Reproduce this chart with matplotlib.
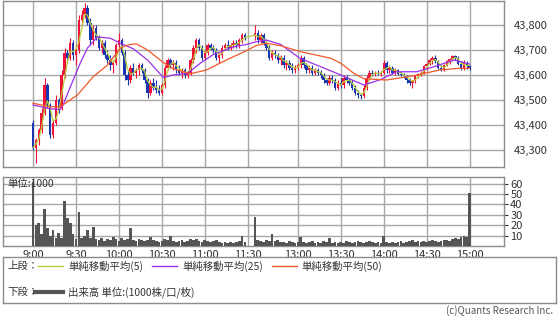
import numpy as np
import pandas as pd
import matplotlib
matplotlib.use("Agg")
import matplotlib.pyplot as plt

plt.rcParams['font.family'] = ['Noto Sans CJK JP', 'DejaVu Sans']

# 2-minute bars: morning 9:00-11:28 (75 bars), afternoon 12:30-15:00 (76 bars)
opens = [
    43410, 43310, 43340, 43380, 43450, 43560, 43480, 43360, 43410, 43500,
    43470, 43600, 43690, 43670, 43730, 43680, 43700, 43820, 43840, 43870,
    43810, 43740, 43790, 43750, 43710, 43730, 43680, 43660, 43640, 43650,
    43720, 43740, 43690, 43600, 43580, 43630, 43610, 43620, 43640, 43620,
    43580, 43530, 43570, 43550, 43540, 43530, 43560, 43630, 43660, 43640,
    43650, 43620, 43610, 43620, 43600, 43610, 43660, 43710, 43740, 43710,
    43670, 43690, 43720, 43710, 43700, 43670, 43680, 43710, 43720, 43710,
    43720, 43730, 43720, 43740, 43760,
    43760, 43770, 43740, 43760, 43730, 43710, 43670, 43690, 43680, 43660,
    43670, 43640, 43650, 43630, 43620, 43630, 43640, 43670, 43640, 43620,
    43630, 43610, 43620, 43610, 43600, 43580, 43570, 43590, 43580, 43550,
    43570, 43560, 43590, 43580, 43570, 43550, 43530, 43520, 43515, 43550,
    43590, 43610, 43605, 43610, 43605, 43610, 43650, 43620, 43630, 43610,
    43620, 43605, 43600, 43595, 43580, 43570, 43575, 43595, 43605, 43610,
    43635, 43645, 43660, 43670, 43655, 43630, 43620, 43640, 43655, 43665,
    43675, 43670, 43645, 43630, 43650, 43635,
]
highs = [
    43420, 43350, 43390, 43470, 43590, 43570, 43490, 43420, 43520, 43510,
    43620, 43710, 43700, 43750, 43740, 43720, 43840, 43860, 43890, 43880,
    43830, 43800, 43800, 43760, 43740, 43740, 43700, 43680, 43660, 43730,
    43770, 43750, 43700, 43620, 43640, 43650, 43630, 43650, 43650, 43630,
    43590, 43580, 43590, 43580, 43560, 43570, 43640, 43670, 43670, 43660,
    43660, 43640, 43630, 43630, 43620, 43670, 43720, 43750, 43750, 43720,
    43700, 43730, 43730, 43720, 43710, 43690, 43720, 43730, 43740, 43730,
    43740, 43740, 43750, 43770, 43770,
    43800, 43780, 43770, 43770, 43740, 43720, 43700, 43700, 43690, 43680,
    43680, 43660, 43660, 43650, 43640, 43650, 43680, 43675, 43650, 43640,
    43640, 43630, 43630, 43620, 43610, 43590, 43600, 43600, 43590, 43580,
    43590, 43600, 43600, 43590, 43580, 43560, 43540, 43530, 43560, 43600,
    43620, 43620, 43615, 43620, 43615, 43660, 43655, 43640, 43635, 43630,
    43625, 43615, 43610, 43600, 43590, 43580, 43600, 43610, 43615, 43640,
    43650, 43670, 43675, 43680, 43660, 43640, 43645, 43660, 43670, 43680,
    43680, 43675, 43655, 43660, 43655, 43640,
]
lows = [
    43300, 43250, 43320, 43370, 43440, 43470, 43350, 43350, 43400, 43450,
    43460, 43590, 43650, 43660, 43660, 43640, 43690, 43800, 43830, 43800,
    43720, 43720, 43740, 43700, 43690, 43670, 43650, 43620, 43610, 43640,
    43700, 43680, 43580, 43560, 43570, 43600, 43590, 43600, 43610, 43570,
    43510, 43520, 43540, 43530, 43520, 43520, 43550, 43620, 43630, 43620,
    43610, 43600, 43590, 43590, 43590, 43600, 43650, 43690, 43700, 43660,
    43660, 43680, 43700, 43690, 43660, 43650, 43670, 43700, 43700, 43700,
    43710, 43710, 43710, 43730, 43740,
    43740, 43730, 43730, 43720, 43700, 43660, 43660, 43670, 43650, 43640,
    43630, 43620, 43620, 43610, 43610, 43620, 43630, 43630, 43610, 43610,
    43600, 43600, 43600, 43590, 43570, 43560, 43560, 43570, 43540, 43540,
    43550, 43550, 43570, 43560, 43540, 43520, 43510, 43505, 43510, 43540,
    43580, 43595, 43595, 43600, 43595, 43605, 43610, 43610, 43605, 43600,
    43600, 43595, 43590, 43570, 43560, 43550, 43570, 43590, 43595, 43605,
    43620, 43640, 43645, 43650, 43625, 43615, 43615, 43635, 43645, 43655,
    43660, 43640, 43620, 43620, 43625, 43620,
]
closes = [
    43310, 43340, 43380, 43450, 43560, 43480, 43360, 43410, 43500, 43470,
    43600, 43690, 43670, 43730, 43680, 43700, 43820, 43840, 43870, 43810,
    43740, 43790, 43750, 43710, 43730, 43680, 43660, 43640, 43650, 43720,
    43740, 43690, 43600, 43580, 43630, 43610, 43620, 43640, 43620, 43580,
    43530, 43570, 43550, 43540, 43530, 43560, 43630, 43660, 43640, 43650,
    43620, 43610, 43620, 43600, 43610, 43660, 43710, 43740, 43710, 43670,
    43690, 43720, 43710, 43700, 43670, 43680, 43710, 43720, 43710, 43720,
    43730, 43720, 43740, 43760, 43750,
    43770, 43740, 43760, 43730, 43710, 43670, 43690, 43680, 43660, 43670,
    43640, 43650, 43630, 43620, 43630, 43640, 43670, 43640, 43620, 43630,
    43610, 43620, 43610, 43600, 43580, 43570, 43590, 43580, 43550, 43570,
    43560, 43590, 43580, 43570, 43550, 43530, 43520, 43515, 43550, 43590,
    43610, 43605, 43610, 43605, 43610, 43650, 43620, 43630, 43610, 43620,
    43605, 43600, 43595, 43580, 43570, 43575, 43595, 43605, 43610, 43635,
    43645, 43660, 43670, 43655, 43630, 43620, 43640, 43655, 43665, 43675,
    43670, 43645, 43630, 43650, 43635, 43630,
]
volumes = [
    62, 20, 22, 12, 36, 17, 10, 15, 8, 13,
    8, 43, 27, 22, 12, 7, 33, 8, 10, 15,
    8, 18, 7, 6, 8, 5, 7, 6, 9, 7,
    5, 8, 6, 7, 17, 6, 5, 7, 6, 5,
    6, 9, 6, 5, 4, 5, 7, 6, 10, 5,
    4, 5, 6, 4, 5, 7, 6, 7, 5, 4,
    6, 5, 4, 5, 6, 4, 3, 4, 3, 4,
    3, 4, 5, 10, 4,
    28, 6, 5, 4, 6, 5, 12, 5, 6, 4,
    4, 3, 5, 4, 3, 4, 9, 4, 3, 4,
    5, 3, 4, 3, 5, 4, 8, 3, 4, 3,
    4, 3, 5, 4, 3, 4, 5, 4, 3, 4,
    5, 4, 3, 4, 3, 10, 4, 3, 4, 3,
    4, 5, 3, 4, 5, 6, 4, 5, 4, 5,
    4, 5, 6, 5, 4, 5, 6, 6, 5, 7,
    8, 7, 9, 10, 9, 51,
]

# moving averages
ma25_times = ["9:00", "9:12", "9:19", "9:21", "9:26", "9:33", "9:38", "9:45", "9:54",
              "10:01", "10:10", "10:20", "10:31", "10:38", "10:48", "10:57", "11:06",
              "11:20", "11:29", "12:31", "12:38", "12:48", "13:02", "13:16", "13:30",
              "13:46", "13:57", "14:09", "14:23", "14:35", "14:49", "15:00"]
ma25_vals = [43480, 43465, 43462, 43480, 43552, 43648, 43708, 43752, 43747,
             43727, 43705, 43660, 43590, 43600, 43607, 43648, 43682,
             43713, 43722, 43733, 43740, 43722, 43665, 43633, 43600,
             43560, 43580, 43613, 43613, 43633, 43660, 43644]
ma50_times = ["9:00", "9:12", "9:19", "9:31", "9:42", "9:52", "10:01", "10:06", "10:12",
              "10:20", "10:31", "10:38", "10:50", "11:01", "11:15", "11:29", "12:31",
              "12:38", "12:48", "13:02", "13:23", "13:30", "13:39", "13:46", "14:02",
              "14:21", "14:39", "14:53", "15:00"]
ma50_vals = [43487, 43473, 43473, 43520, 43593, 43640, 43707, 43720, 43725,
             43700, 43650, 43625, 43605, 43620, 43660, 43697, 43718,
             43727, 43717, 43693, 43667, 43647, 43607, 43585, 43580,
             43597, 43620, 43627, 43627]

tick_times = ["9:00", "9:30", "10:00", "10:30", "11:00", "11:30",
              "13:00", "13:30", "14:00", "14:30", "15:00"]
price_ticks = [43300, 43400, 43500, 43600, 43700, 43800]
vol_ticks = [10, 20, 30, 40, 50, 60]


def to_pos(hhmm):
    h, m = map(int, hhmm.split(":"))
    mins = (h - 9) * 60 + m
    # lunch break compressed: 12:30 sits 5 min after 11:30
    return mins if mins <= 150 else mins - 55


bar_times = list(pd.date_range("09:00", periods=75, freq="2min").strftime("%H:%M")) + \
            list(pd.date_range("12:30", periods=76, freq="2min").strftime("%H:%M"))
x = np.array([to_pos(t) for t in bar_times])
o, h, l, c = map(np.array, (opens, highs, lows, closes))
ma5 = pd.Series(c).rolling(3, min_periods=1).mean()

W, H = 560, 317


def rect(x0, y0, x1, y1):
    return [x0 / W, 1 - y1 / H, (x1 - x0) / W, (y1 - y0) / H]


fig = plt.figure(figsize=(W / 100, H / 100), dpi=100)
ax = fig.add_axes(rect(3, 1, 504, 167))
axv = fig.add_axes(rect(3, 177, 504, 246))
axl = fig.add_axes(rect(3, 257, 556, 303))

grid_c = '#a8a8a8'
spine_c = '#8c8c8c'
up_c, dn_c = '#f01238', '#1a35b0'
tick_pos = [to_pos(t) for t in tick_times]

# candles
up = c >= o
cols = np.where(up, up_c, dn_c)
ax.vlines(x, l, h, colors=cols, lw=0.8, zorder=3)
ax.bar(x, np.maximum(np.abs(c - o), 3), bottom=np.minimum(o, c), width=1.7,
       color=cols, zorder=3, linewidth=0)
ax.plot(x, ma5, color='#b5cf3c', lw=0.9, zorder=4)
ax.plot([to_pos(t) for t in ma25_times], ma25_vals, color='#9b30e8', lw=0.9, zorder=4)
ax.plot([to_pos(t) for t in ma50_times], ma50_vals, color='#f05a28', lw=0.9, zorder=4)

ax.set_xlim(-21, 329)
ax.set_ylim(43232, 43896)
ax.set_xticks(tick_pos)
ax.set_xticklabels([])
ax.set_yticks(price_ticks)
ax.set_yticklabels([f"{v:,}" for v in price_ticks])
ax.yaxis.tick_right()
ax.tick_params(axis='y', length=0, pad=7, labelsize=8, colors='#333333')
ax.tick_params(axis='x', length=0)
ax.grid(color=grid_c, lw=1)
ax.set_axisbelow(True)

# volume
axv.bar(x, volumes, width=1.9, color='#555555', linewidth=0, zorder=3)
axv.set_xlim(-21, 329)
axv.set_ylim(0, 66.5)
axv.set_xticks(tick_pos)
axv.set_xticklabels(tick_times)
axv.set_yticks(vol_ticks)
axv.yaxis.tick_right()
axv.tick_params(axis='y', length=3, pad=1.5, labelsize=8, colors='#333333')
axv.tick_params(axis='x', length=0, pad=3, labelsize=8, colors='#333333')
axv.grid(color=grid_c, lw=1)
axv.set_axisbelow(True)
axv.text(0.008, 0.9, '単位:1000', transform=axv.transAxes, fontsize=7.5,
         color='#333333', va='center', zorder=5)

for a in (ax, axv, axl):
    for s in a.spines.values():
        s.set_color(spine_c)
        s.set_linewidth(1)

# legend box (coordinates in figure pixels)
axl.set_xlim(3, 556)
axl.set_ylim(303, 257)
axl.set_xticks([])
axl.set_yticks([])
fs = 7.5
row1, row2 = 266, 292
axl.text(7, row1, '上段：', fontsize=fs, va='center', color='#333333')
axl.plot([38, 63], [row1, row1], color='#b5cf3c', lw=1)
axl.text(68, row1, '単純移動平均(5)', fontsize=fs, va='center', color='#333333')
axl.plot([152, 177], [row1, row1], color='#9b30e8', lw=1)
axl.text(182, row1, '単純移動平均(25)', fontsize=fs, va='center', color='#333333')
axl.plot([272, 297], [row1, row1], color='#f05a28', lw=1)
axl.text(301, row1, '単純移動平均(50)', fontsize=fs, va='center', color='#333333')
axl.text(7, row2, '下段：', fontsize=fs, va='center', color='#333333')
axl.plot([35, 63], [row2, row2], color='#555555', lw=3)
axl.text(68, row2, '出来高 単位:(1000株/口/枚)', fontsize=fs, va='center', color='#333333')

fig.text(553 / W, 1 - 311 / H, '(c)Quants Research Inc.', fontsize=7,
         color='#555555', ha='right', va='center')

fig.savefig('out.png', dpi=100)
